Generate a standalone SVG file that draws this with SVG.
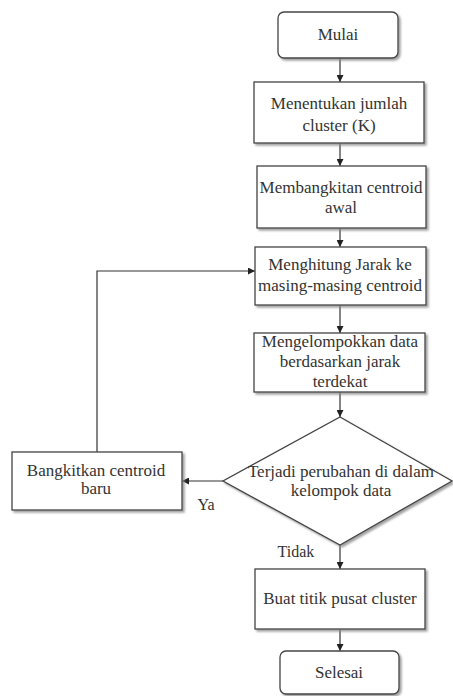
<svg xmlns="http://www.w3.org/2000/svg" width="453" height="696" viewBox="0 0 453 696">
<style>
.box{fill:#fff;stroke:#444;stroke-width:1.3;filter:url(#sh)}
.c{fill:none;stroke:#333;stroke-width:1.2;marker-end:url(#ah)}
</style>
<defs>
<filter id="sh" x="-10%" y="-10%" width="130%" height="140%">
<feDropShadow dx="2" dy="2" stdDeviation="1" flood-color="#888" flood-opacity="0.8"/>
</filter>
<marker id="ah" viewBox="0 0 10 10" refX="10" refY="5" markerWidth="7" markerHeight="7" markerUnits="userSpaceOnUse" orient="auto">
<path d="M0,0 L10,5 L0,10 z" fill="#222"/>
</marker>
</defs>
<rect width="453" height="696" fill="#fff"/>
<g id="connectors">
<line class="c" x1="340" y1="58" x2="340" y2="82"/>
<line class="c" x1="340" y1="143" x2="340" y2="166"/>
<line class="c" x1="340" y1="228" x2="340" y2="247"/>
<line class="c" x1="340" y1="305" x2="340" y2="333"/>
<line class="c" x1="340" y1="392" x2="340" y2="417"/>
<line class="c" x1="223" y1="481" x2="182" y2="481"/>
<line class="c" x1="340" y1="545" x2="340" y2="569"/>
<line class="c" x1="340" y1="629" x2="340" y2="651"/>
<polyline class="c" points="97,452 97,271 255,271"/>
</g>
<g font-family="Liberation Serif, DejaVu Serif, serif" font-size="17" fill="#333" text-anchor="middle">
<text x="206" y="510" font-size="16">Ya</text>
<text x="296" y="557" font-size="16">Tidak</text>
</g>
<g id="mulai" font-family="Liberation Serif, DejaVu Serif, serif" font-size="17" fill="#333" text-anchor="middle">
<rect class="box" x="278" y="12" width="120" height="46" rx="6"/>
<text x="338" y="40">Mulai</text>
</g>
<g id="menentukan" font-family="Liberation Serif, DejaVu Serif, serif" font-size="17" fill="#333" text-anchor="middle">
<rect class="box" x="254" y="82" width="170" height="61"/>
<text x="339" y="109">Menentukan jumlah</text>
<text x="339" y="131">cluster (K)</text>
</g>
<g id="membangkitan" font-family="Liberation Serif, DejaVu Serif, serif" font-size="17" fill="#333" text-anchor="middle">
<rect class="box" x="257" y="166" width="169" height="62"/>
<text x="341" y="193">Membangkitan centroid</text>
<text x="341" y="213">awal</text>
</g>
<g id="menghitung" font-family="Liberation Serif, DejaVu Serif, serif" font-size="17" fill="#333" text-anchor="middle">
<rect class="box" x="255" y="247" width="171" height="58"/>
<text x="340" y="270">Menghitung Jarak ke</text>
<text x="340" y="291">masing-masing centroid</text>
</g>
<g id="mengelompokkan" font-family="Liberation Serif, DejaVu Serif, serif" font-size="17" fill="#333" text-anchor="middle">
<rect class="box" x="254" y="333" width="171" height="59"/>
<text x="340" y="347">Mengelompokkan data</text>
<text x="340" y="367">berdasarkan jarak</text>
<text x="340" y="387">terdekat</text>
</g>
<g id="keputusan" font-family="Liberation Serif, DejaVu Serif, serif" font-size="17" fill="#333" text-anchor="middle">
<polygon class="box" points="340,417 452,481 340,545 223,481"/>
<text x="341" y="477">Terjadi perubahan di dalam</text>
<text x="341" y="496">kelompok data</text>
</g>
<g id="bangkitkan" font-family="Liberation Serif, DejaVu Serif, serif" font-size="17" fill="#333" text-anchor="middle">
<rect class="box" x="12" y="452" width="170" height="58"/>
<text x="96" y="476">Bangkitkan centroid</text>
<text x="96" y="494">baru</text>
</g>
<g id="buat" font-family="Liberation Serif, DejaVu Serif, serif" font-size="17" fill="#333" text-anchor="middle">
<rect class="box" x="255" y="569" width="170" height="60"/>
<text x="340" y="604">Buat titik pusat cluster</text>
</g>
<g id="selesai" font-family="Liberation Serif, DejaVu Serif, serif" font-size="17" fill="#333" text-anchor="middle">
<rect class="box" x="280" y="651" width="119" height="43" rx="6"/>
<text x="339" y="678">Selesai</text>
</g>
</svg>
